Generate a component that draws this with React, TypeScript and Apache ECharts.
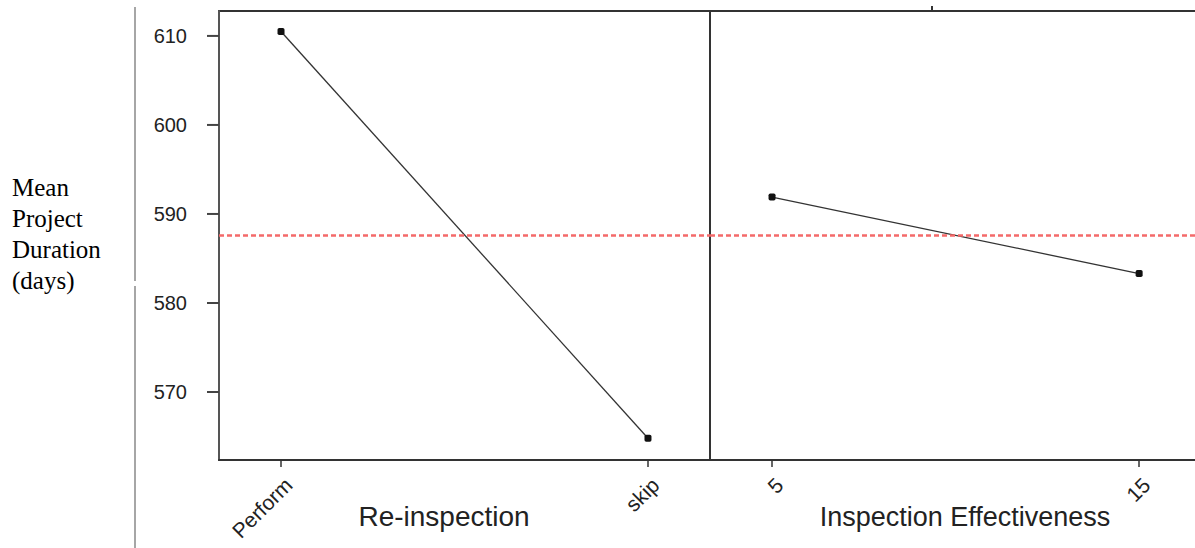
import React, { useEffect, useRef } from "react";
import * as echarts from "echarts";

const yTicks = [570, 580, 590, 600, 610];
const reinspCategories = ["Perform", "skip"];
const reinspMeans = [610.5, 564.8];
const effLevels = [5, 15];
const effMeans = [591.9, 583.3];
const grandMean = 587.6;

const FONT = "'Liberation Sans', Arial, sans-serif";
const PAD = 0.169;
const reinspPos = reinspCategories.map((_, i) => i + PAD);
const Y_MIN = 562.36;
const Y_MAX = 612.8;

export default function App() {
  const ref = useRef<HTMLDivElement>(null);
  useEffect(() => {
    if (!ref.current) return;
    const chart = echarts.init(ref.current, undefined, { renderer: "svg" });
    const markLine = {
      silent: true,
      symbol: "none",
      label: { show: false },
      lineStyle: { color: "#f46a6a", type: [5, 3], width: 2.5 },
      data: [{ yAxis: grandMean }],
    };
    const xLabel = {
      fontFamily: FONT, fontSize: 21, color: "#222", rotate: 45, margin: 14,
      align: "right", verticalAlign: "top",
    };
    const baseGraphic: any[] = [
      { id: "sep1", type: "line", shape: { x1: 135, y1: 7, x2: 135, y2: 281 }, style: { stroke: "#888", lineWidth: 1.5 } },
      { id: "sep2", type: "line", shape: { x1: 135, y1: 286, x2: 135, y2: 548 }, style: { stroke: "#888", lineWidth: 1.5 } },
      { id: "toptick", type: "line", shape: { x1: 932, y1: 6, x2: 932, y2: 11 }, style: { stroke: "#333", lineWidth: 2 } },
      {
        id: "ytitle", type: "text", left: 12, top: 172,
        style: {
          text: "Mean\nProject\nDuration\n(days)",
          font: "25px 'Liberation Serif', 'Times New Roman', serif",
          lineHeight: 31, fill: "#000",
        },
      },
      {
        id: "x1title", type: "text", x: 444, y: 516,
        style: { text: "Re-inspection", font: `28px ${FONT}`, fill: "#222", align: "center", verticalAlign: "middle" },
      },
      {
        id: "x2title", type: "text", x: 965, y: 517,
        style: { text: "Inspection Effectiveness", font: `27px ${FONT}`, fill: "#222", align: "center", verticalAlign: "middle" },
      },
    ];
    const option = {
      animation: false,
      backgroundColor: "#fff",
      grid: [
        { left: 219, top: 11, width: 491, height: 449, outerBoundsMode: "none", containLabel: false, show: true, borderColor: "#333", borderWidth: 2, backgroundColor: "transparent" },
        { left: 710, top: 11, width: 540, height: 449, outerBoundsMode: "none", containLabel: false, show: true, borderColor: "#333", borderWidth: 2, backgroundColor: "transparent" },
      ],
      xAxis: [
        {
          type: "value", gridIndex: 0, min: 0, max: 1 + 2 * PAD,
          splitLine: { show: false },
          axisLine: { show: true, onZero: false, lineStyle: { color: "#333", width: 2 } },
          axisTick: { show: true, customValues: reinspPos, length: 7, lineStyle: { color: "#333", width: 1.5 } },
          axisLabel: {
            ...xLabel, customValues: reinspPos,
            formatter: (v: number) => reinspCategories[Math.round(v - PAD)] ?? "",
          },
        },
        {
          type: "value", gridIndex: 1, min: 3.31, max: 18.02,
          splitLine: { show: false },
          axisLine: { show: true, onZero: false, lineStyle: { color: "#333", width: 2 } },
          axisTick: { show: true, customValues: effLevels, length: 7, lineStyle: { color: "#333", width: 1.5 } },
          axisLabel: { ...xLabel, customValues: effLevels, formatter: (v: number) => String(v) },
        },
      ],
      yAxis: [
        {
          type: "value", gridIndex: 0, min: Y_MIN, max: Y_MAX, position: "left",
          splitLine: { show: false },
          axisLine: { show: true, onZero: false, lineStyle: { color: "#555", width: 2 } },
          axisTick: { show: false },
          axisLabel: { fontFamily: FONT, fontSize: 20, color: "#222", customValues: yTicks, margin: 32 },
        },
        {
          type: "value", gridIndex: 1, min: Y_MIN, max: Y_MAX,
          splitLine: { show: false }, axisLine: { show: false, onZero: false }, axisTick: { show: false }, axisLabel: { show: false },
        },
      ],
      series: [
        {
          type: "line", xAxisIndex: 0, yAxisIndex: 0,
          data: reinspMeans.map((v, i) => [reinspPos[i], v]),
          symbol: "roundRect", symbolSize: 7,
          itemStyle: { color: "#111" },
          lineStyle: { color: "#333", width: 1.3 },
          markLine,
        },
        {
          type: "line", xAxisIndex: 1, yAxisIndex: 1,
          data: effMeans.map((v, i) => [effLevels[i], v]),
          symbol: "roundRect", symbolSize: 7,
          itemStyle: { color: "#111" },
          lineStyle: { color: "#333", width: 1.3 },
          markLine,
        },
      ],
      graphic: baseGraphic,
    };
    chart.setOption(option as any);

    // y-axis tick marks, positioned through the y axis scale
    const tickRects = yTicks.map((t, i) => {
      let y = chart.convertToPixel({ yAxisIndex: 0 } as any, t) as unknown as number;
      if (typeof y !== "number" || !isFinite(y)) {
        y = 11 + ((Y_MAX - t) / (Y_MAX - Y_MIN)) * 449;
      }
      return {
        id: "ytick" + i, type: "rect", z: 1000,
        shape: { x: 207, y: y - 1, width: 12, height: 2 },
        style: { fill: "#444" },
      };
    });
    chart.setOption({ graphic: [...baseGraphic, ...tickRects] } as any);
    return () => chart.dispose();
  }, []);
  return (
    <div
      ref={ref}
      style={{ position: "fixed", left: 0, top: 0, width: 1195, height: 548, background: "#fff" }}
    />
  );
}
